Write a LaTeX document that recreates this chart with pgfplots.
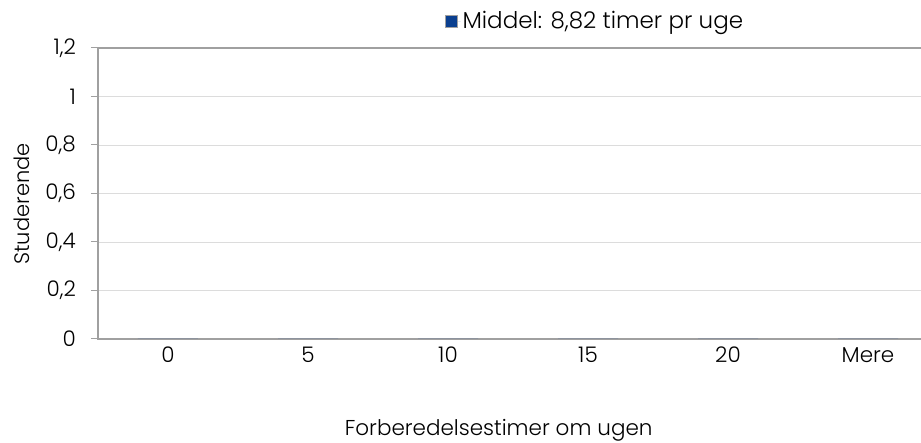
\documentclass[border=0pt]{standalone}
\usepackage{pgfplots}
\pgfplotsset{compat=1.18}
\usepackage{fontspec}
\setmainfont{Poppins}[UprightFont=* Light]
\definecolor{barblue}{HTML}{0A3F8F}
\definecolor{axgray}{HTML}{A0A0A0}
\definecolor{gridgray}{HTML}{DCDCDC}
\begin{document}
\fontsize{21}{25}\selectfont
\begin{tikzpicture}
\begin{axis}[
  at={(0,0)}, anchor=south west,
  scale only axis,
  width=840pt, height=291pt,
  xmin=-0.5, xmax=5.5,
  ymin=0, ymax=1.2,
  ytick={0,0.2,...,1.2},
  xtick={0,1,2,3,4,5},
  xticklabels={0,5,10,15,20,Mere},
  /pgf/number format/assume math mode=true,
  /pgf/number format/use comma,
  /pgf/number format/fixed,
  /pgf/number format/precision=1,
  ymajorgrids,
  grid style={gridgray, line width=0.8pt},
  axis line style={axgray, line width=2pt},
  x tick style={draw=none},
  y tick style={axgray, line width=1pt},
  major tick length=7pt,
  tick align=outside,
  ytick pos=left,
  xtick pos=bottom,
  tick label style={font=\fontsize{21.5}{25}\selectfont},
  yticklabel style={xshift=-8pt},
  xticklabel style={yshift=6pt},
  ylabel={Studerende},
  ylabel style={font=\fontsize{21}{25}\selectfont, at={(axis description cs:-0.0905,0.464)}, anchor=center},
  xlabel={Forberedelsestimer om ugen},
  xlabel style={font=\fontsize{21.5}{25}\selectfont, at={(axis description cs:0.477,-0.313)}, anchor=center},
  legend style={at={(axis description cs:0.413,1.09)}, anchor=west, draw=none, fill=none,
    font=\fontsize{23}{27}\selectfont, inner sep=0pt},
  ybar, bar width=60pt,
]
\addplot[fill=barblue, draw=none,
  legend image code/.code={\path (0pt,0pt) -- (15pt,0pt);\draw[fill=barblue, draw=axgray, line width=1pt] (0pt,-6pt) rectangle (12pt,6pt);}]
  coordinates {(0,0) (1,0) (2,0) (3,0) (4,0) (5,0)};
\addlegendentry{Middel: 8,82 timer pr uge}
\end{axis}
\pgfresetboundingbox
\useasboundingbox (-98pt,-104pt) rectangle (823pt,339pt);
\end{tikzpicture}
\end{document}
